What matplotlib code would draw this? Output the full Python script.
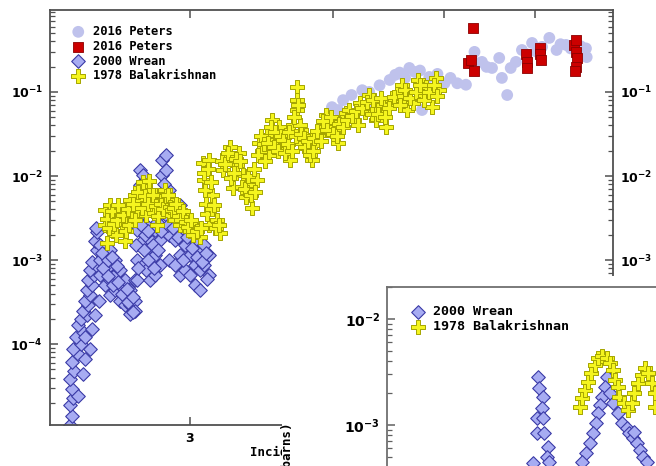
import numpy as np
import matplotlib
matplotlib.use('Agg')
import matplotlib.pyplot as plt
from matplotlib.patches import Rectangle
from matplotlib.ticker import FixedLocator, FixedFormatter, NullLocator, LogLocator

# ---- data (energy in MeV, cross section in barns) ----
peters_circles = [
    (3.99, 0.066), (4.04, 0.061), (4.08, 0.080), (4.15, 0.092), (4.24, 0.105),
    (4.30, 0.100), (4.33, 0.064), (4.39, 0.120), (4.48, 0.139), (4.53, 0.160),
    (4.57, 0.170), (4.62, 0.147), (4.66, 0.193), (4.71, 0.173), (4.76, 0.180),
    (4.78, 0.061), (4.85, 0.151), (4.93, 0.164), (5.00, 0.127), (5.06, 0.147),
    (5.13, 0.127), (5.22, 0.122), (5.31, 0.300), (5.33, 0.220), (5.39, 0.228),
    (5.44, 0.199), (5.50, 0.193), (5.58, 0.254), (5.61, 0.147), (5.67, 0.092),
    (5.71, 0.193), (5.77, 0.228), (5.84, 0.316), (5.90, 0.280), (5.96, 0.383),
    (6.02, 0.300), (6.08, 0.344), (6.17, 0.440), (6.26, 0.316), (6.31, 0.370),
    (6.38, 0.363), (6.44, 0.330), (6.51, 0.383), (6.57, 0.350), (6.64, 0.330),
    (6.65, 0.260),
]
peters_squares = [
    (5.29, 0.578), (5.24, 0.220), (5.27, 0.240), (5.31, 0.180), (5.89, 0.280),
    (5.90, 0.228), (5.90, 0.193), (6.05, 0.330), (6.05, 0.280), (6.07, 0.240),
    (6.48, 0.363), (6.51, 0.420), (6.51, 0.300), (6.52, 0.254), (6.51, 0.200),
    (6.50, 0.180),
]
wrean = [
    (2.36, 1.1e-5), (2.37, 1.4e-5), (2.36, 1.9e-5), (2.375, 2.3e-5), (2.37, 2.9e-5),
    (2.36, 3.8e-5), (2.38, 4.8e-5), (2.37, 6.2e-5), (2.40, 7.6e-5), (2.375, 8.7e-5),
    (2.41, 1.0e-4), (2.39, 1.2e-4), (2.42, 1.4e-4), (2.40, 1.7e-4), (2.43, 1.2e-4),
    (2.41, 2.0e-4), (2.44, 2.2e-4), (2.42, 2.5e-4), (2.445, 2.9e-4), (2.43, 3.3e-4),
    (2.456, 3.8e-4), (2.44, 4.4e-4), (2.466, 5.0e-4), (2.445, 5.8e-4), (2.476, 6.6e-4),
    (2.456, 7.6e-4), (2.486, 8.7e-4), (2.466, 9.5e-4), (2.49, 1.3e-3), (2.48, 1.7e-3),
    (2.49, 2.15e-3), (2.486, 2.4e-3), (2.43, 6.6e-5), (2.456, 8.7e-5), (2.42, 4.4e-5),
    (2.40, 2.4e-5), (2.466, 1.5e-4), (2.48, 2.2e-4), (2.50, 3.3e-4),
    (2.505, 1.5e-3), (2.505, 1.0e-3), (2.505, 6.6e-4),
    (2.53, 1.15e-3), (2.53, 7.6e-4), (2.53, 5.0e-4),
    (2.556, 1.3e-3), (2.556, 8.7e-4), (2.556, 5.8e-4), (2.556, 3.8e-4),
    (2.58, 1.0e-3), (2.58, 6.6e-4), (2.58, 4.4e-4),
    (2.61, 7.6e-4), (2.61, 5.0e-4), (2.61, 3.3e-4),
    (2.634, 5.8e-4), (2.634, 3.8e-4), (2.634, 2.9e-4),
    (2.66, 4.4e-4), (2.66, 2.9e-4), (2.66, 2.3e-4),
    (2.687, 5.8e-4), (2.687, 3.3e-4), (2.687, 2.5e-4),
    (2.70, 2.3e-3), (2.70, 1.0e-3), (2.70, 5.8e-4),
    (2.714, 1.18e-2), (2.714, 7.8e-3), (2.714, 5.2e-3), (2.714, 3.4e-3),
    (2.73, 1.03e-2), (2.73, 1.73e-3), (2.73, 8.7e-4),
    (2.75, 2.6e-3), (2.75, 1.3e-3), (2.75, 7.6e-4),
    (2.77, 1.73e-3), (2.77, 1.0e-3), (2.77, 5.8e-4),
    (2.80, 2.3e-3), (2.80, 1.15e-3), (2.80, 6.6e-4),
    (2.825, 3.4e-3), (2.825, 1.73e-3), (2.825, 8.7e-4),
    (2.84, 1.55e-2), (2.84, 1.03e-2), (2.84, 5.9e-3),
    (2.86, 1.78e-2), (2.86, 1.18e-2), (2.86, 3.4e-3),
    (2.88, 6.8e-3), (2.88, 3.9e-3), (2.88, 2.0e-3), (2.88, 1.0e-3),
    (2.91, 3.4e-3), (2.91, 1.73e-3), (2.91, 8.7e-4),
    (2.94, 4.5e-3), (2.94, 2.3e-3), (2.94, 1.15e-3), (2.94, 6.6e-4),
    (2.97, 3.0e-3), (2.97, 1.5e-3), (2.97, 7.6e-4),
    (3.00, 2.3e-3), (3.00, 1.15e-3), (3.00, 6.6e-4),
    (3.03, 1.73e-3), (3.03, 8.7e-4), (3.03, 5.0e-4),
    (3.06, 1.3e-3), (3.06, 7.6e-4), (3.06, 4.4e-4),
    (3.09, 1.5e-3), (3.09, 8.7e-4), (3.12, 1.15e-3), (3.12, 6.6e-4),
    (2.515, 1.2e-3), (2.52, 8.0e-4), (2.545, 1.0e-3), (2.545, 6.5e-4), (2.565, 1.1e-3),
    (2.57, 5.0e-4), (2.595, 8.5e-4), (2.60, 5.5e-4), (2.62, 4.0e-4), (2.645, 4.5e-4),
    (2.65, 3.2e-4), (2.675, 3.6e-4), (2.675, 2.4e-4), (2.695, 1.5e-3), (2.705, 8.0e-4),
    (2.72, 2.6e-3), (2.72, 6.0e-3), (2.735, 1.3e-3), (2.74, 2.0e-3), (2.76, 1.0e-3),
    (2.76, 2.2e-3), (2.785, 1.5e-3), (2.79, 8.0e-4), (2.81, 2.8e-3), (2.815, 1.3e-3),
    (2.83, 2.2e-3), (2.85, 8.0e-3), (2.855, 4.5e-3), (2.87, 2.6e-3), (2.895, 5.0e-3),
    (2.90, 2.4e-3), (2.925, 4.0e-3), (2.93, 1.9e-3), (2.955, 3.6e-3), (2.96, 1.0e-3),
    (2.985, 1.9e-3), (3.015, 1.4e-3), (3.045, 1.1e-3), (3.075, 9.5e-4), (3.10, 1.2e-3),
    (3.105, 6.0e-4),
]
balakrishnan = [
    (2.53, 0.0039), (2.53, 0.0026), (2.54, 0.0016), (2.556, 0.0045), (2.556, 0.0032),
    (2.57, 0.0022), (2.58, 0.0034), (2.59, 0.0020), (2.61, 0.0039), (2.62, 0.0026),
    (2.634, 0.0017), (2.645, 0.0030), (2.66, 0.0052), (2.67, 0.0034), (2.687, 0.0059),
    (2.70, 0.0039), (2.714, 0.0072), (2.72, 0.0052), (2.74, 0.0078), (2.75, 0.0034),
    (2.77, 0.0068), (2.78, 0.0045), (2.80, 0.0059), (2.81, 0.0026), (2.825, 0.0039),
    (2.84, 0.0052), (2.854, 0.0068), (2.87, 0.0045), (2.88, 0.0034), (2.90, 0.0052),
    (2.91, 0.0030), (2.93, 0.0039), (2.94, 0.0026), (2.97, 0.0034), (3.00, 0.0022),
    (3.03, 0.0026), (3.06, 0.0019), (3.08, 0.0143), (3.09, 0.0090), (3.10, 0.0047),
    (3.12, 0.0155), (3.12, 0.0026), (3.14, 0.0059), (3.17, 0.0030), (3.19, 0.0021),
    (3.21, 0.0118), (3.23, 0.0178), (3.25, 0.022), (3.27, 0.0072), (3.30, 0.0135),
    (3.31, 0.019), (3.34, 0.0103), (3.36, 0.0056), (3.38, 0.0078), (3.40, 0.0042),
    (3.43, 0.0090), (3.45, 0.025), (3.47, 0.020), (3.50, 0.031), (3.52, 0.0178),
    (3.54, 0.046), (3.57, 0.027), (3.59, 0.038), (3.61, 0.022), (3.64, 0.031),
    (3.67, 0.0155), (3.69, 0.040), (3.72, 0.115), (3.72, 0.080), (3.72, 0.061),
    (3.74, 0.040), (3.76, 0.025), (3.79, 0.031), (3.81, 0.020), (3.83, 0.0155),
    (3.86, 0.0234), (3.89, 0.031), (3.91, 0.038), (3.94, 0.053), (3.97, 0.044),
    (4.02, 0.038), (4.04, 0.025), (4.07, 0.049), (4.10, 0.056), (4.13, 0.061),
    (4.17, 0.046), (4.22, 0.074), (4.26, 0.058), (4.30, 0.092), (4.35, 0.061),
    (4.36, 0.046), (4.42, 0.070), (4.45, 0.038), (4.50, 0.080), (4.55, 0.097),
    (4.59, 0.120), (4.64, 0.061), (4.69, 0.074), (4.74, 0.139), (4.78, 0.092),
    (4.82, 0.115), (4.88, 0.066), (4.92, 0.147), (4.95, 0.105),
    (2.54, 0.0031), (2.55, 0.0024), (2.565, 0.0038), (2.575, 0.0027), (2.595, 0.0030),
    (2.60, 0.0045), (2.625, 0.0034), (2.64, 0.0022), (2.65, 0.0040), (2.655, 0.0026),
    (2.675, 0.0046), (2.69, 0.0030), (2.705, 0.0064), (2.725, 0.0042), (2.73, 0.0085),
    (2.745, 0.0058), (2.76, 0.0047), (2.765, 0.0088), (2.785, 0.0060), (2.79, 0.0036),
    (2.805, 0.0044), (2.815, 0.0033), (2.83, 0.0047), (2.845, 0.0040), (2.86, 0.0058),
    (2.875, 0.0060), (2.885, 0.0043), (2.895, 0.0039), (2.905, 0.0042), (2.92, 0.0046),
    (2.935, 0.0033), (2.95, 0.0030), (2.96, 0.0038), (2.98, 0.0028), (2.99, 0.0025),
    (3.01, 0.0030), (3.02, 0.0020), (3.045, 0.0022), (3.07, 0.0024), (3.085, 0.0110),
    (3.095, 0.0068), (3.105, 0.0035), (3.115, 0.0120), (3.13, 0.0085), (3.135, 0.0040),
    (3.15, 0.0045), (3.16, 0.0024), (3.18, 0.0026), (3.20, 0.0150), (3.22, 0.0140),
    (3.24, 0.0190), (3.26, 0.0095), (3.28, 0.0110), (3.29, 0.0160), (3.32, 0.0150),
    (3.33, 0.0075), (3.35, 0.0070), (3.37, 0.0100), (3.39, 0.0060), (3.41, 0.0120),
    (3.42, 0.0065), (3.44, 0.0180), (3.46, 0.0300), (3.48, 0.0240), (3.49, 0.0150),
    (3.51, 0.0250), (3.53, 0.0380), (3.55, 0.0220), (3.56, 0.0330), (3.58, 0.0200),
    (3.60, 0.0300), (3.62, 0.0270), (3.63, 0.0190), (3.65, 0.0240), (3.66, 0.0330),
    (3.68, 0.0200), (3.70, 0.0500), (3.71, 0.0300), (3.73, 0.0700), (3.75, 0.0320),
    (3.77, 0.0280), (3.78, 0.0220), (3.80, 0.0260), (3.82, 0.0180), (3.84, 0.0200),
    (3.85, 0.0280), (3.87, 0.0340), (3.90, 0.0260), (3.92, 0.0450), (3.95, 0.0350),
    (3.98, 0.0500), (4.00, 0.0320), (4.03, 0.0300), (4.05, 0.0420), (4.08, 0.0380),
    (4.11, 0.0470), (4.15, 0.0520), (4.19, 0.0600), (4.20, 0.0400), (4.24, 0.0650),
    (4.28, 0.0750), (4.32, 0.0550), (4.33, 0.0800), (4.38, 0.0550), (4.40, 0.0850),
    (4.44, 0.0500), (4.47, 0.0650), (4.52, 0.0880), (4.57, 0.0700), (4.61, 0.0900),
    (4.62, 0.1050), (4.67, 0.0850), (4.72, 0.1000), (4.76, 0.1200), (4.80, 0.0800),
    (4.85, 0.1000), (4.90, 0.1200), (4.93, 0.0900),
]

# zoomed panel (lower right)
inset_wrean = [
    (2.469, 2.84e-3), (2.470, 2.23e-3), (2.473, 1.84e-3), (2.472, 1.45e-3), (2.468, 1.16e-3),
    (2.473, 1.16e-3), (2.468, 8.4e-4), (2.474, 8.4e-4), (2.477, 6.2e-4), (2.476, 5.0e-4),
    (2.465, 4.4e-4), (2.478, 4.5e-4),
    (2.523, 2.84e-3), (2.522, 2.28e-3), (2.519, 1.84e-3), (2.518, 1.55e-3), (2.516, 1.30e-3),
    (2.515, 1.04e-3), (2.512, 8.4e-4), (2.510, 6.8e-4), (2.507, 5.4e-4), (2.504, 4.5e-4),
    (2.526, 2.00e-3), (2.528, 1.61e-3), (2.532, 1.30e-3), (2.535, 1.04e-3), (2.539, 9.4e-4),
    (2.541, 8.4e-4), (2.544, 7.5e-4), (2.547, 6.8e-4), (2.549, 5.8e-4), (2.552, 5.0e-4),
    (2.555, 4.5e-4), (2.545, 8.6e-4),
]
inset_balakrishnan = [
    (2.502, 1.48e-3), (2.504, 1.80e-3), (2.506, 2.14e-3), (2.508, 2.55e-3), (2.511, 3.09e-3),
    (2.514, 3.68e-3), (2.516, 4.29e-3), (2.519, 4.48e-3), (2.523, 4.29e-3), (2.526, 3.85e-3),
    (2.528, 3.30e-3), (2.530, 2.66e-3), (2.532, 2.28e-3), (2.533, 1.84e-3), (2.537, 1.61e-3),
    (2.540, 1.39e-3), (2.543, 1.61e-3), (2.545, 2.00e-3), (2.548, 2.49e-3), (2.551, 2.96e-3),
    (2.553, 3.45e-3), (2.556, 3.09e-3), (2.559, 2.49e-3), (2.561, 2.00e-3), (2.561, 1.48e-3),
]

main_labels = ['2016 Peters', '2016 Peters', '2000 Wrean', '1978 Balakrishnan']
x_ticks = [3, 4, 5, 6]

plt.rcParams['font.weight'] = 'bold'
plt.rcParams['mathtext.default'] = 'regular'

W, H = 656, 466


def px_box(left, top, right, bottom):
    return [left / W, 1 - bottom / H, (right - left) / W, (bottom - top) / H]


styles = [
    dict(marker='o', s=72, c='#bfc2ec', edgecolors='none'),
    dict(marker='s', s=50, c='#cc0000', edgecolors='#8c0000', linewidths=0.6),
    dict(marker='D', s=48, c='#a7acf2', edgecolors='#3a3aa6', linewidths=0.8),
    dict(marker='P', s=105, c='#f5f51e', edgecolors='#a5a500', linewidths=0.7),
]
mono = dict(family='DejaVu Sans Mono', weight='bold')

fig = plt.figure(figsize=(6.56, 4.66), dpi=100)

ax = fig.add_axes(px_box(50, 10, 613, 425))
ax.set_xscale('log')
ax.set_yscale('log')
for data, st, lab in zip([peters_circles, peters_squares, wrean, balakrishnan], styles, main_labels):
    arr = np.array(data)
    ax.scatter(arr[:, 0], arr[:, 1], label=lab, zorder=2, **st)
ax.set_xlim(2.267, 7.01)
ax.set_ylim(1.09e-5, 0.945)

ax.xaxis.set_major_locator(FixedLocator(x_ticks))
ax.xaxis.set_major_formatter(FixedFormatter([str(t) for t in x_ticks]))
ax.xaxis.set_minor_locator(NullLocator())
ax.yaxis.set_major_locator(LogLocator(base=10))
ax.yaxis.set_minor_locator(LogLocator(base=10, subs=np.arange(2, 10)))
ax.tick_params(which='both', direction='in', top=True, right=True,
               labeltop=True, labelright=True, color='#505050')
ax.tick_params(which='major', length=6, width=1.1, labelsize=9)
ax.tick_params(which='minor', length=3.5, width=0.9)
ax.tick_params(axis='x', pad=5)
ax.tick_params(axis='y', which='major', pad=5)
for sp in ax.spines.values():
    sp.set_color('#505050')
    sp.set_linewidth(1.3)

ax.set_xlabel('Incident Energy (MeV)', fontsize=9, **mono)
ax.xaxis.set_label_coords((250 - 50) / 563, (425 - 452) / 415)
ax.xaxis.label.set_ha('left')
ax.xaxis.label.set_va('center')

ax.legend(loc='upper left', bbox_to_anchor=(71 / W, 1 - 25 / H), bbox_transform=fig.transFigure,
          frameon=False, prop=dict(size=8.7, **mono), borderpad=0, borderaxespad=0,
          handlelength=1.2, handletextpad=0.65, labelspacing=0.15, scatterpoints=1)

# white sheet of the zoomed panel covering the lower right
fig.add_artist(Rectangle((282 / W, 0), 1, (H - 276) / H, transform=fig.transFigure,
                         facecolor='white', edgecolor='none', zorder=1))

axi = fig.add_axes(px_box(387, 287, 717, 531), zorder=3)
axi.set_yscale('log')
for data, st, lab in zip([inset_wrean, inset_balakrishnan], styles[2:], main_labels[2:]):
    arr = np.array(data)
    axi.scatter(arr[:, 0], arr[:, 1], label=lab, zorder=2, **st)
axi.set_xlim(2.35, 2.61)
axi.set_ylim(1e-4, 2e-2)
axi.yaxis.set_major_locator(LogLocator(base=10))
axi.yaxis.set_minor_locator(LogLocator(base=10, subs=np.arange(2, 10)))
axi.tick_params(which='both', direction='in', color='#606060')
axi.tick_params(which='major', length=6, width=1.1, labelsize=10, pad=5)
axi.tick_params(which='minor', length=3.5, width=0.9)
for sp in axi.spines.values():
    sp.set_color('#707070')
    sp.set_linewidth(1.3)
axi.legend(loc='upper left', bbox_to_anchor=(410 / W, 1 - 305 / H), bbox_transform=fig.transFigure,
           frameon=False, prop=dict(size=9.6, **mono), borderpad=0, borderaxespad=0,
           handlelength=1.2, handletextpad=0.55, labelspacing=0.15, scatterpoints=1)

fig.text(288 / W, 1 - 423 / H, 'Cross Section (barns)', rotation=90, ha='center', va='top',
         fontsize=9, zorder=4, **mono)

fig.savefig('out.png', dpi=100)
